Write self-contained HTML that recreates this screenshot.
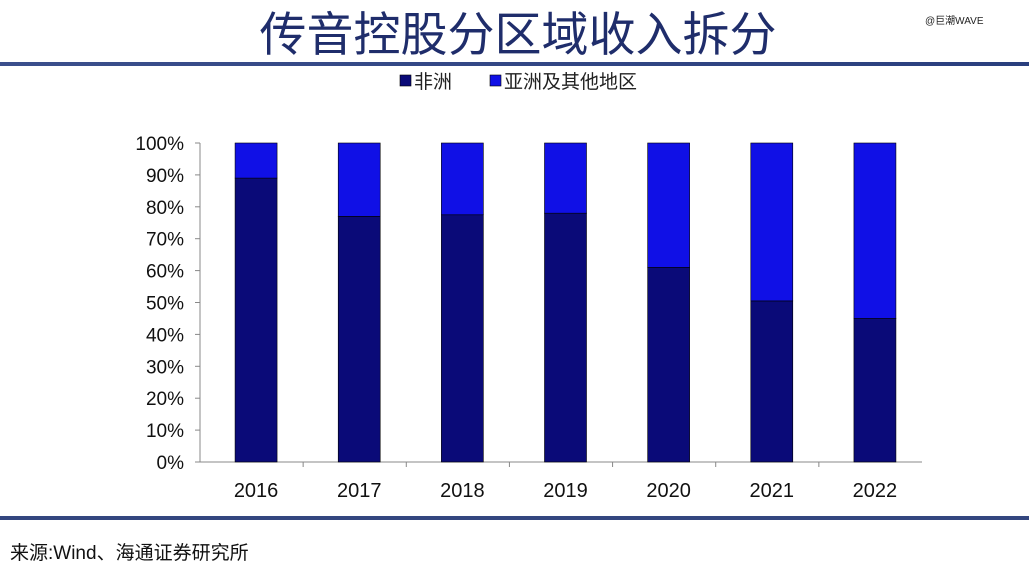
<!DOCTYPE html>
<html><head><meta charset="utf-8"><style>
body{margin:0;width:1029px;height:587px;background:#fff;overflow:hidden;position:relative;font-family:"Liberation Sans","Noto Sans CJK SC",sans-serif}
.t{position:absolute;left:0;width:1036px;top:-4px;text-align:center;font-size:47px;color:#1f2d6b;font-family:"Liberation Sans","Noto Sans CJK SC",sans-serif}
</style></head><body>
<div class="t">传音控股分区域收入拆分</div>
<div style="position:absolute;left:925px;top:12px;font-size:10px;color:#222">@巨潮WAVE</div>
<div style="position:absolute;left:0;top:62px;width:1029px;height:4px;background:linear-gradient(90deg,#3b4f8c,#2a3f7e)"></div>
<div style="position:absolute;left:0;top:516px;width:1029px;height:4px;background:#33467f"></div>
<div style="position:absolute;left:10px;top:538px;font-size:19px;color:#111">来源:Wind、海通证券研究所</div>
<svg id="c" width="1029" height="587" style="position:absolute;left:0;top:0"></svg>
<script>
const categories=["2016","2017","2018","2019","2020","2021","2022"];
const africa=[89,77,77.5,78,61,50.5,45];
const asiaOther=[11,23,22.5,22,39,49.5,55];
const yTicks=[0,10,20,30,40,50,60,70,80,90,100];
const svg=document.getElementById('c');const NS='http://www.w3.org/2000/svg';
const x0=200,x1=922,y0=462,y1=143;
const y=v=>y0-(y0-y1)*v/100;
const step=(x1-x0)/categories.length;
const xc=i=>x0+step*(i+0.5)+4.5;
function mk(t,a){const e=document.createElementNS(NS,t);for(const k in a)e.setAttribute(k,a[k]);svg.appendChild(e);return e;}
let e=mk('line',{x1:x0,y1:y1,x2:x0,y2:y0,stroke:'#888'});


e=mk('line',{x1:x0,y1:y0,x2:x1,y2:y0,stroke:'#888'});


yTicks.forEach(v=>{
 mk('line',{x1:x0-5,y1:y(v),x2:x0,y2:y(v),stroke:'#888'});
 const t=mk('text',{x:x0-16,y:y(v)+7,'text-anchor':'end','font-size':19,fill:'#111'});t.textContent=v+'%';
 
 
});
categories.forEach((c,i)=>{
 const bw=42,bx=xc(i)-bw/2;
 let r=mk('rect',{x:bx,y:y(africa[i]),width:bw,height:y0-y(africa[i]),fill:'#0a0a78',stroke:'#000','stroke-width':0.6});
 
 
 r=mk('rect',{x:bx,y:y(africa[i]+asiaOther[i]),width:bw,height:y(africa[i])-y(africa[i]+asiaOther[i]),fill:'#1010e6',stroke:'#000','stroke-width':0.6});
 
 
 const t=mk('text',{x:xc(i),y:497,'text-anchor':'middle','font-size':20,fill:'#111'});t.textContent=c;
 
 
 if(i<categories.length-1){mk('line',{x1:x0+step*(i+1),y1:y0,x2:x0+step*(i+1),y2:y0+5,stroke:'#888'});}
});
[[400,'#0a0a78','非洲'],[490,'#1010e6','亚洲及其他地区']].forEach(([lx,col,txt])=>{
 const r=mk('rect',{x:lx,y:75,width:11,height:11,fill:col,stroke:'#000','stroke-width':0.6});
 
 
 const t=mk('text',{x:lx+14,y:88,'font-size':19,fill:'#222'});t.textContent=txt;
 
 
});
</script>
</body></html>
